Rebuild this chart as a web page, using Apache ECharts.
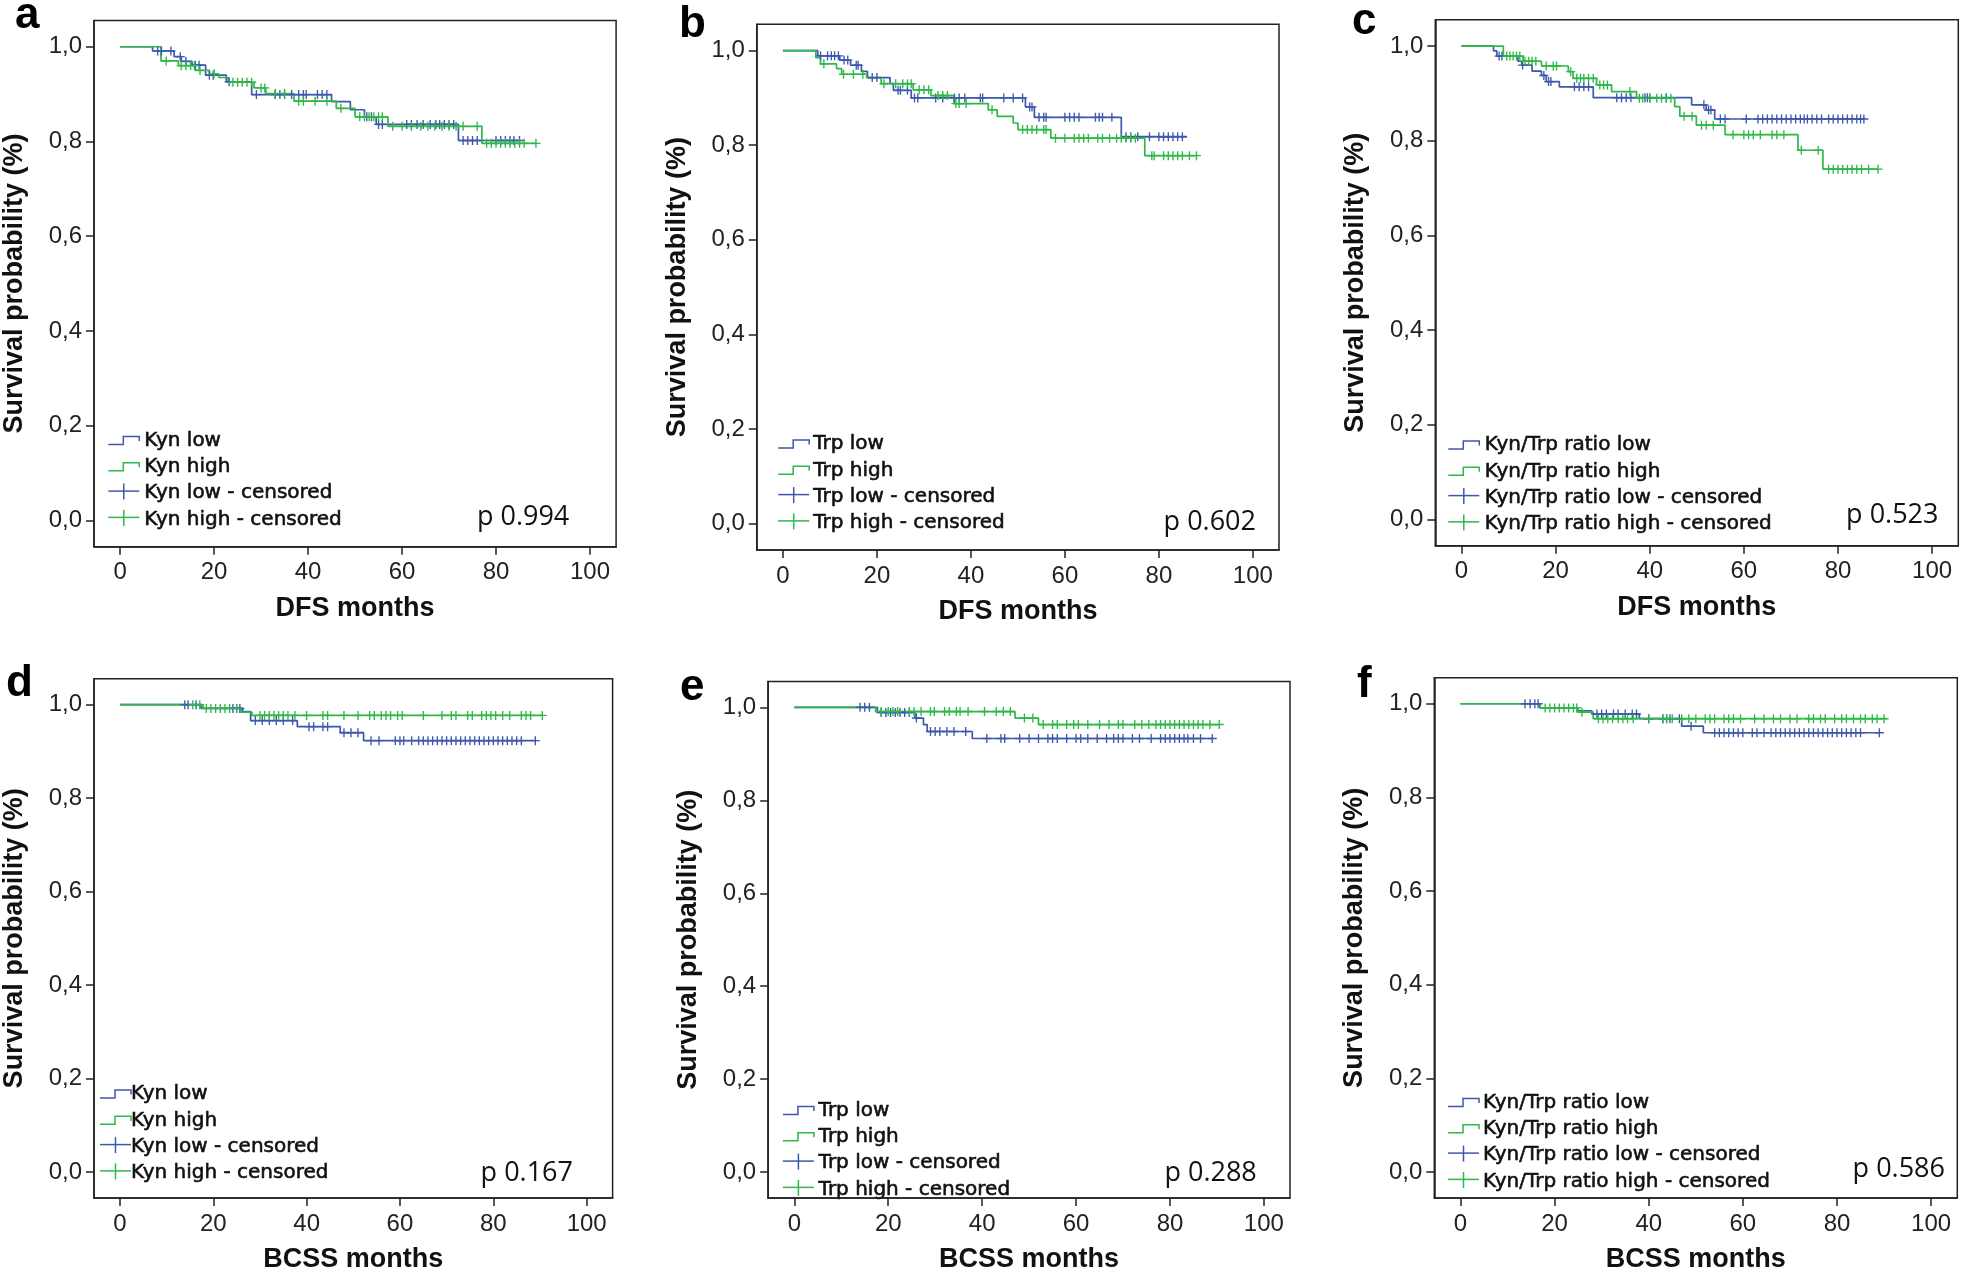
<!DOCTYPE html>
<html><head><meta charset="utf-8">
<script src="https://cdn.jsdelivr.net/npm/echarts@6/dist/echarts.min.js"></script>
<style>html,body{margin:0;padding:0;background:#fff}#c{width:1961px;height:1274px}</style>
</head><body><div id="c"></div><script>
// ---------------- DATA ----------------
const xTickValues = [0, 20, 40, 60, 80, 100];
const yTickValues = [0, 0.2, 0.4, 0.6, 0.8, 1.0];
const yTickLabels = ['0,0', '0,2', '0,4', '0,6', '0,8', '1,0'];
const panelLetters = ['a', 'b', 'c', 'd', 'e', 'f'];
const xAxisTitles = ['DFS months', 'DFS months', 'DFS months', 'BCSS months', 'BCSS months', 'BCSS months'];
const groupNames = ['Kyn', 'Trp', 'Kyn/Trp ratio', 'Kyn', 'Trp', 'Kyn/Trp ratio'];
const pValues = ['p 0.994', 'p 0.602', 'p 0.523', 'p 0.167', 'p 0.288', 'p 0.586'];

// Panel a: DFS, Kyn
const aLowSteps = [[0,1],[6.9,0.991],[11.5,0.979],[13,0.969],[15.3,0.961],[18.2,0.94],[22.6,0.926],[28,0.899],[45,0.884],[49,0.867],[52,0.852],[54.5,0.836],[72,0.802],[85,0.802]];
const aLowCens = [8,8.8,10.8,12.8,14,16,16.8,19,19.8,23.2,29,33,34,35,36.5,38,39,39.6,42,43,44,52.5,53.5,55,55.8,61,62,63.2,64.5,66,67.2,68,69,70,71,73,74,75,76,80,81,82,83,83.8,85];
const aHighSteps = [[0,1],[8.7,0.970],[12.4,0.960],[16,0.950],[19,0.943],[21,0.935],[23,0.925],[28.5,0.913],[31,0.901],[37,0.885],[46,0.870],[50,0.852],[57,0.832],[77,0.796],[88.5,0.796]];
const aHighCens = [9.8,13,14,15,15.8,17,20,24,25,26,27,28,30,30.8,33,35,38,39,41.5,44,47,51,52,53,54,55,55.8,58,60,62,64,65.5,67,68.5,70,71.5,73,76,78,79,80,81,82,83,84,85,86,88.5];

// Panel b: DFS, Trp
const bLowSteps = [[0,1],[7.4,0.989],[12.1,0.980],[14.4,0.969],[16.7,0.956],[18,0.943],[22.8,0.930],[23.5,0.916],[27.3,0.900],[51.6,0.881],[53.5,0.859],[72,0.818],[86,0.818]];
const bLowCens = [8,9.5,10.3,11,11.8,13,13.8,15.6,16,19,20,24.5,25,26.5,28,28.7,32.5,34,36.5,37.5,38.7,42,42.5,47,49,51,52.5,53,54.5,55.5,56,60,61,62,63,66.5,67.3,68,70,73,74,75.5,78,80,81,82,83,84,85];
const bHighSteps = [[0,1],[7,0.985],[8,0.972],[11.4,0.962],[12.5,0.950],[17.8,0.943],[20.9,0.930],[27.7,0.917],[31.5,0.905],[36.4,0.888],[43.7,0.875],[45.6,0.861],[49,0.847],[50,0.833],[57,0.815],[77,0.778],[88,0.778]];
const bHighCens = [8.7,12.9,15,17,21.5,24,25.5,26.5,27.3,29,30,31,33,34,35,36.8,37.5,39,44.5,51,52,53,54,55.5,56,58,60,62,63,64,65,67,68,69.5,71,72,73,74,75,78.5,79,81,82,83,84,85,86.5,88];

// Panel c: DFS, Kyn/Trp ratio
const cLowSteps = [[0,1],[6.8,0.990],[7.5,0.979],[12,0.968],[12.8,0.960],[15,0.947],[17,0.938],[18,0.925],[20.8,0.914],[28,0.891],[48.9,0.876],[52,0.865],[53.8,0.846],[85.5,0.846]];
const cLowCens = [8,8.6,13,17.5,18.5,19,24,25,26,27,33,34,35,36,39,39.5,40,43.5,51.5,52.5,53,55,56,60.5,63,64,65,66,67,68,69,70,71,72,72.8,73.5,74.5,75.5,76.5,78,79,80,81,82,83,84,84.8,85.5];
const cHighSteps = [[0,1],[8.9,0.979],[13.1,0.968],[17,0.958],[22.7,0.946],[23.7,0.932],[28.7,0.918],[31.9,0.904],[37.2,0.890],[45.3,0.872],[46.4,0.852],[49.9,0.833],[56,0.813],[71.5,0.780],[76.8,0.740],[88.5,0.740]];
const cHighCens = [9.6,10.3,11,11.7,12.4,13.5,14.3,15,15.8,18,19.5,20.2,23.2,24.5,25.3,26,27,28,29.4,30.2,31,35.8,37.8,38.5,40,41.5,42.5,43.5,44.5,47.3,49,51,52,53.5,57.7,60,61,62,63.5,66,67,68.5,72.2,75.8,78,79,80,81,82,83,84,85,86.5,88.5];

// Panel d: BCSS, Kyn
const dLowSteps = [[0,1],[17.4,0.992],[26.3,0.985],[28,0.966],[38,0.953],[47.2,0.940],[52.2,0.923],[89,0.923]];
const dLowCens = [13.9,14.6,16.3,24.2,25,25.7,29,30.5,32,33.5,35,37,40.5,41.5,43.5,44.5,48,49.5,51,53.8,55.5,59,60,60.8,62.5,64,65,66,67,68,69,70,71,72,73,74,75,76,77,78,79,80,81,82,83,84,85,86,89];
const dHighSteps = [[0,1],[17.8,0.992],[26,0.984],[28.3,0.977],[90.5,0.977]];
const dHighCens = [15.6,17.1,18.5,19.5,20.5,21.5,22.5,23.5,25,30,31,32,33,34,35,36,37.5,40,43.5,44.5,48,51,53.5,54.5,56,57,58,59.5,60.5,65,69,71,72,74.5,75.5,77.5,78.5,79.5,80.5,82,83.5,86,87,88,90.5];

// Panel e: BCSS, Trp
const eLowSteps = [[0,1],[17.7,0.989],[25.7,0.977],[27.5,0.963],[28.3,0.948],[37.9,0.933],[89,0.933]];
const eLowCens = [14,15,16,18.5,19.5,20.5,21.5,22.5,23.5,24.5,26,29,30,31,32.5,34,36.5,41,44,44.8,48,50,52,54,55,56,58,60,61,62.5,64.5,66.5,68,69,70,72,73.5,76,78,79,80,81,82,83,83.8,85,86.5,89];
const eHighSteps = [[0,1],[17.3,0.991],[47,0.977],[52,0.963],[90.5,0.963]];
const eHighCens = [18.5,20,21,22,24.5,25.5,27,29,29.8,32,33,34.5,35.3,37,40.5,43,44.5,46,49,50.8,53,55,56,58,59.5,60.5,62.5,65,67,69,70,72.5,74,75.5,77,78,79,80,81,82,83,84,85,86,87,88.5,90.5];

// Panel f: BCSS, Kyn/Trp ratio
const fLowSteps = [[0,1],[16.9,0.991],[25,0.985],[27.9,0.978],[38,0.968],[47,0.952],[51.6,0.938],[89,0.938]];
const fLowCens = [13.7,14.8,15.8,16.5,29,30,31,32.5,33.5,35,36.5,37.4,40,43,43.8,44.5,46.5,49,54,55,56,57,58,59,60,62,63,64.5,66,67,68,69,70,71,72,73,74,75,76,77,78,79,80,81,82,83,84,85,89];
const fHighSteps = [[0,1],[16.9,0.991],[25,0.982],[28.2,0.968],[90.5,0.968]];
const fHighCens = [18,19,20,21,22,23,24,24.7,25.8,29.3,30.3,31.3,32.3,33.5,34.5,35.5,36.7,40,43,43.8,45,47,48.5,50,52,53,54,56,57,58,59.5,62.5,64.5,66.5,68,70,71.5,74,75,76.5,77.5,79.5,81,82,83.5,85,86,87.5,88.5,90];

const lowSteps = [aLowSteps, bLowSteps, cLowSteps, dLowSteps, eLowSteps, fLowSteps];
const lowCens = [aLowCens, bLowCens, cLowCens, dLowCens, eLowCens, fLowCens];
const highSteps = [aHighSteps, bHighSteps, cHighSteps, dHighSteps, eHighSteps, fHighSteps];
const highCens = [aHighCens, bHighCens, cHighCens, dHighCens, eHighCens, fHighCens];

// ---------------- LAYOUT / STYLE ----------------
const grids = [
  {left: 93.5, top: 20.4, width: 522.6, height: 526.3},
  {left: 756.8, top: 24.3, width: 522.2, height: 525.7},
  {left: 1435.3, top: 19.8, width: 523, height: 526},
  {left: 90.4, top: 678.7, width: 522.2, height: 526},
  {left: 768.2, top: 681.5, width: 521.8, height: 525.6},
  {left: 1434.3, top: 677.7, width: 523, height: 526}
];
const legendPos = [
  {ix: 108.3, tx: 144.3, y0: 440.5},
  {ix: 778.2, tx: 813.2, y0: 444},
  {ix: 1448.3, tx: 1484.8, y0: 445},
  {ix: 100, tx: 131, y0: 1094},
  {ix: 782.9, tx: 818.6, y0: 1110.5},
  {ix: 1448, tx: 1483, y0: 1102.5}
];
const pPos = [[569.3,517.5],[1256,522.5],[1938.5,515],[573,1173.5],[1256.8,1173],[1945,1169.5]];
const letterPos = [[15,31],[679,40],[1352,37.5],[6,699],[680,703],[1357,700]];
const BLUE = '#3E58AC', GREEN = '#2EB848';
const XMIN = -5.56, XMAX = 105.56, YMIN = -0.0556, YMAX = 1.0556;
const PLUS = 'path://M0,4.25 H10 V5.75 H0 Z M4.25,0 H5.75 V10 H4.25 Z';

function stepAt(steps, t) {
  let s = steps[0][1];
  for (const [x, y] of steps) if (x <= t) s = y;
  return s;
}

const option = {
  animation: false,
  backgroundColor: '#fff',
  grid: [], xAxis: [], yAxis: [], series: [], graphic: []
};

for (let i = 0; i < 6; i++) {
  const g = grids[i];
  option.grid.push(Object.assign({show: true, borderColor: '#222', borderWidth: 1.5, containLabel: false}, g));
  option.xAxis.push({
    type: 'value', gridIndex: i, min: XMIN, max: XMAX, position: 'bottom',
    axisLine: {show: true, onZero: false, lineStyle: {color: '#222', width: 1.5}},
    splitLine: {show: false},
    axisTick: {show: true, customValues: xTickValues, length: 8, lineStyle: {color: '#222', width: 1.5}},
    axisLabel: {customValues: xTickValues, margin: 14, fontSize: 24, fontFamily: 'Liberation Sans, Arial, sans-serif', color: '#222'},
    name: xAxisTitles[i], nameLocation: 'middle', nameGap: 48,
    nameTextStyle: {fontSize: 27, fontWeight: 'bold', fontFamily: 'Liberation Sans, Arial, sans-serif', color: '#111'}
  });
  option.yAxis.push({
    type: 'value', gridIndex: i, min: YMIN, max: YMAX, position: 'left',
    axisLine: {show: true, onZero: false, lineStyle: {color: '#222', width: 1.5}},
    splitLine: {show: false},
    axisTick: {show: true, customValues: yTickValues, length: 8, lineStyle: {color: '#222', width: 1.5}},
    axisLabel: {customValues: yTickValues, margin: 12, fontSize: 24, fontFamily: 'Liberation Sans, Arial, sans-serif', color: '#222',
      formatter: v => { const k = yTickValues.findIndex(u => Math.abs(u - v) < 1e-6); return k >= 0 ? yTickLabels[k] : ''; }},
    name: 'Survival probability (%)', nameLocation: 'middle', nameGap: 66,
    nameTextStyle: {fontSize: 27, fontWeight: 'bold', fontFamily: 'Liberation Sans, Arial, sans-serif', color: '#111'}
  });
  const gname = groupNames[i];
  const names = [gname + ' low', gname + ' high', gname + ' low - censored', gname + ' high - censored'];
  const curves = [[lowSteps[i], BLUE, names[0]], [highSteps[i], GREEN, names[1]]];
  curves.forEach(([steps, col, nm]) => {
    option.series.push({
      type: 'line', name: nm, xAxisIndex: i, yAxisIndex: i, step: 'end', showSymbol: false,
      data: steps, lineStyle: {color: col, width: 1.7}, itemStyle: {color: col}, z: 2, silent: true
    });
  });
  const cens = [[lowCens[i], lowSteps[i], BLUE, names[2]], [highCens[i], highSteps[i], GREEN, names[3]]];
  cens.forEach(([times, steps, col, nm]) => {
    option.series.push({
      type: 'scatter', name: nm, xAxisIndex: i, yAxisIndex: i, symbol: PLUS, symbolSize: 9,
      data: times.map(t => [t, stepAt(steps, t)]), itemStyle: {color: col, opacity: 1}, z: 3, silent: true
    });
  });
  // legend (drawn with graphic elements)
  const L = legendPos[i], step = 26.3;
  const cols = [BLUE, GREEN, BLUE, GREEN];
  names.forEach((nm, k) => {
    const cy = L.y0 + k * step;
    if (k < 2) {
      option.graphic.push({type: 'polyline', silent: true,
        shape: {points: [[L.ix, cy + 4], [L.ix + 15, cy + 4], [L.ix + 15, cy - 4], [L.ix + 31, cy - 4], [L.ix + 31, cy + 0.5]]},
        style: {stroke: cols[k], lineWidth: 1.5, fill: null}});
    } else {
      option.graphic.push({type: 'line', silent: true, shape: {x1: L.ix, y1: cy - 2, x2: L.ix + 31, y2: cy - 2}, style: {stroke: cols[k], lineWidth: 1.5}});
      option.graphic.push({type: 'line', silent: true, shape: {x1: L.ix + 15.5, y1: cy - 9.5, x2: L.ix + 15.5, y2: cy + 6.5}, style: {stroke: cols[k], lineWidth: 1.5}});
    }
    option.graphic.push({type: 'text', silent: true, x: L.tx, y: cy,
      style: {text: nm, font: '20px "DejaVu Sans", sans-serif', fill: '#111', stroke: '#111', lineWidth: 0.6, verticalAlign: 'middle', align: 'left'}});
  });
  option.graphic.push({type: 'text', silent: true, x: pPos[i][0], y: pPos[i][1],
    style: {text: pValues[i], font: '27px "Open Sans", sans-serif', fill: '#111', verticalAlign: 'middle', align: 'right'}});
  option.graphic.push({type: 'text', silent: true, x: letterPos[i][0], y: letterPos[i][1] - 0.35 * 44,
    style: {text: panelLetters[i], font: 'bold 44px "Liberation Sans", Arial, sans-serif', fill: '#000', verticalAlign: 'middle', align: 'left'}});
}

const chart = echarts.init(document.getElementById('c'), null, {renderer: 'canvas', width: 1961, height: 1274});
chart.setOption(option);
</script></body></html>
